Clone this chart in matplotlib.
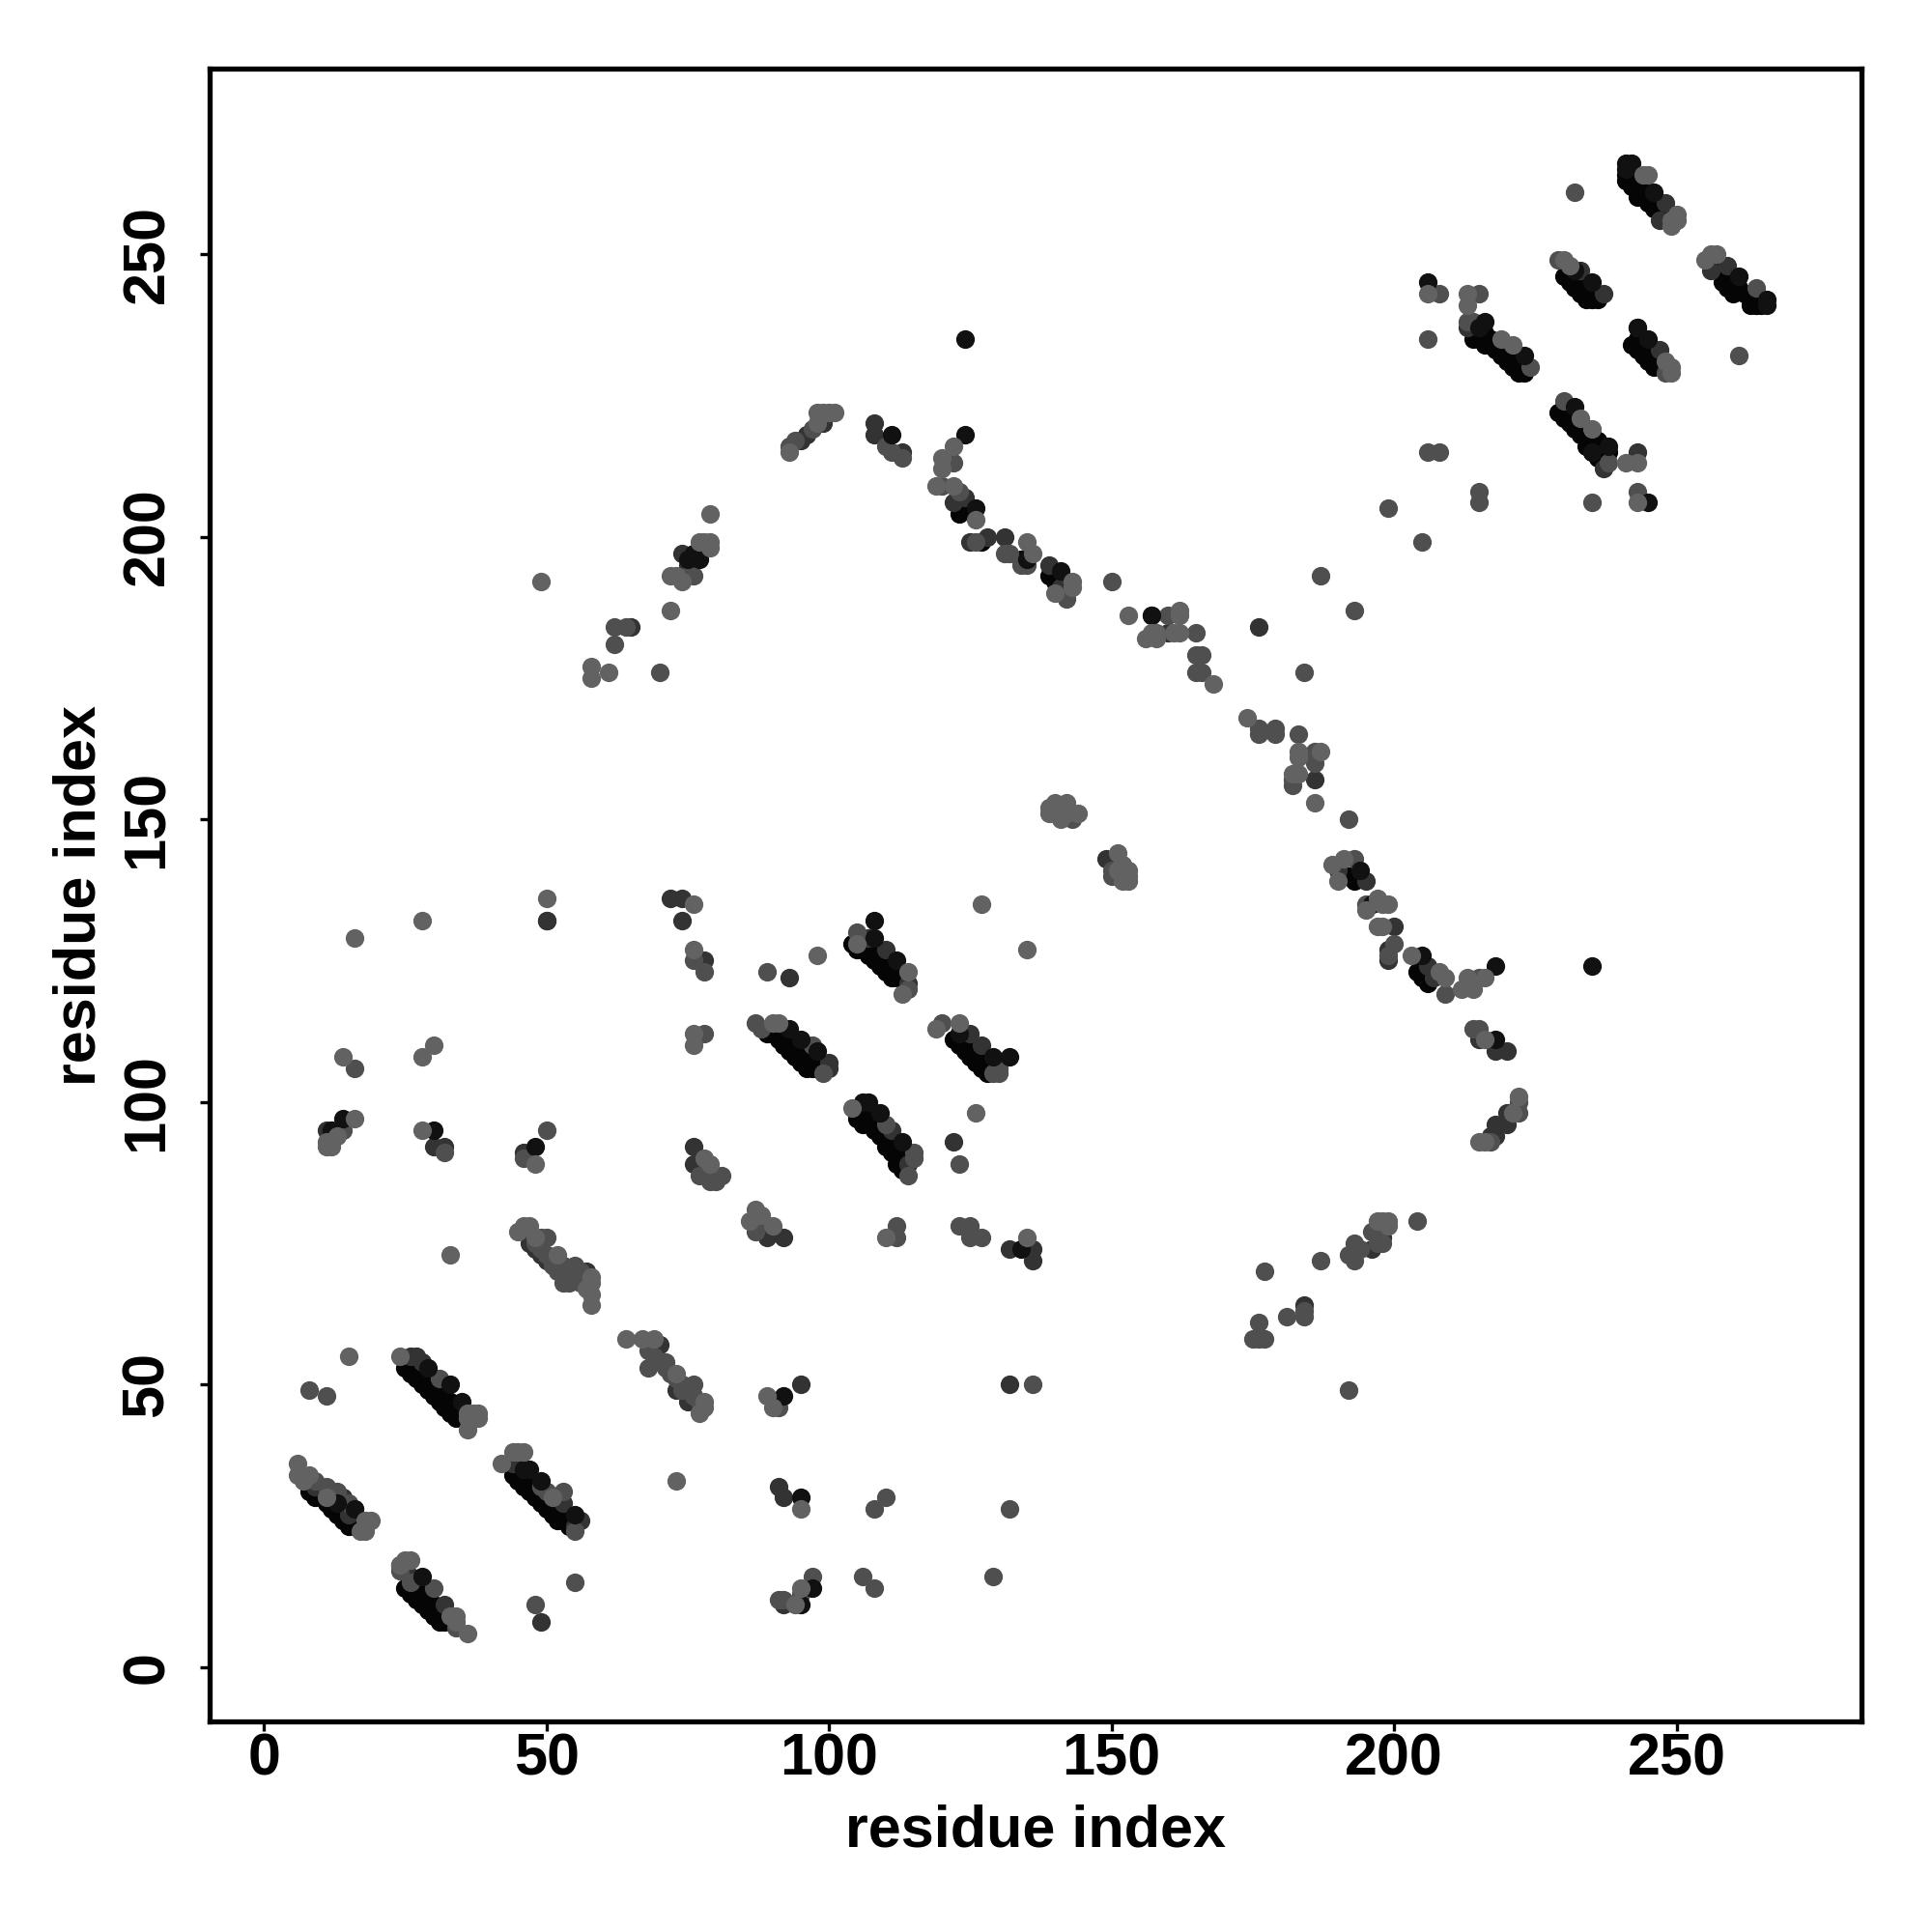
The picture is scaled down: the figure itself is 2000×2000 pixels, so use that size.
import matplotlib
matplotlib.use("Agg")
import matplotlib.pyplot as plt

plt.rcParams['font.family'] = ['Liberation Sans', 'DejaVu Sans']
plt.rcParams['font.weight'] = 'bold'

ticks = [0, 50, 100, 150, 200, 250]
axis_label = "residue index"

black_pts = [
 (8,31),(9,30),(10,30),(11,29),(12,28),(13,27),(14,26),(15,25),(16,25),
 (25,53),(26,52),(27,51),(28,50),(29,49),(30,48),(31,47),(32,46),(33,45),(34,44),
 (44,34),(45,33),(46,32),(47,31),(48,30),(49,29),(50,28),(51,27),(52,26),(53,26),(54,25),
 (25,14),(26,13),(27,12),(28,11),(29,10),(30,9),(31,8),(32,8),
 (104,128),(105,127),(106,127),(107,126),(108,125),(109,124),(110,123),(111,122),(112,122),
 (89,112),(90,112),(91,111),(92,110),(93,109),(94,108),(95,107),(96,106),(97,106),
 (122,111),(123,110),(124,109),(125,108),(126,107),(127,106),(128,105),
 (105,97),(106,96),(107,96),(108,95),(109,94),(110,92),(111,91),(112,89),(113,88),
 (241,263),(241,264),(242,262),(243,260),(244,260),(245,259),(246,258),
 (258,245),(259,244),(260,243),(263,241),(264,241),(265,241),
 (230,246),(231,245),(232,244),(233,243),(234,242),(235,242),
 (214,235),(215,235),(216,234),(217,234),(218,233),(219,232),(220,231),(221,230),(222,229),(223,229),
 (242,234),(243,233),(244,232),(245,231),(246,230),
 (229,222),(230,221),(231,220),(232,219),(233,218),(234,216),(235,215),(236,214),
 (123,204),(124,205),(127,199),(134,196),(139,193),(140,192),
 (192,140),(193,139),(196,135),(204,123),(205,122),(206,121),
 (10,32),(11,31),(12,30),(13,29),(14,28),(15,27),(16,26),
 (26,54),(27,53),(28,52),(29,51),(30,50),(31,49),(32,48),(33,47),(34,46),(35,45),
 (46,34),(47,33),(48,32),(49,31),(50,30),(51,29),(52,28),(53,27),(54,26),
 (26,15),(27,14),(28,13),(29,12),(30,11),(31,10),(32,9),(33,8),
 (106,129),(107,128),(108,127),(109,126),(110,125),(111,124),(112,123),(113,122),
 (90,113),(91,113),(92,112),(93,111),(94,110),(95,109),(96,108),(97,107),(98,106),
 (123,112),(124,111),(125,110),(126,109),(127,108),(128,107),(129,106),
 (106,99),(107,98),(108,97),(109,96),(110,95),(111,94),(112,93),(113,92),(114,91),
 (242,264),(243,263),(244,262),(245,261),(246,260),(247,259),(248,258),
 (256,249),(257,248),(258,247),(259,246),(260,245),(261,244),(262,243),(263,242),(264,241),
 (231,247),(232,246),(233,245),(234,244),(235,243),(236,242),
 (215,237),(216,236),(217,235),(218,234),(219,233),(220,232),(221,231),(222,230),
 (243,235),(244,234),(245,233),(246,232),(247,231),(248,230),
 (230,223),(231,222),(232,221),(233,220),(234,219),(235,218),(236,217),(237,216),(238,215),
]
dark_pts = [
 (9,32),(12,31),(14,30),(16,28),(15,27),(11,95),(12,93),(30,92),(32,92),(46,91),
 (26,55),(27,55),(28,54),(44,36),(53,29),(55,25),(56,26),(24,18),(32,11),(26,16),
 (49,8),(47,75),(48,74),(49,73),(50,72),(54,69),(57,70),(70,57),(73,49),(75,47),
 (95,50),(91,32),(92,30),(92,11),(72,136),(74,136),(74,132),(93,122),(78,125),
 (76,92),(76,89),(89,76),(92,76),(122,93),(132,74),(136,74),(136,72),(132,50),
 (50,132),(107,129),(110,127),(114,121),(125,112),(127,110),(100,107),(100,106),
 (111,95),(114,89),(220,109),(218,109),(220,98),(220,96),(218,96),(218,94),(217,94),
 (247,256),(248,259),(256,247),(259,248),(237,243),(233,247),(213,237),(243,237),(247,233),
 (237,212),(243,215),(186,157),(157,186),(160,183),(131,200),(125,199),(128,200),(139,195),
 (141,191),(142,190),(124,207),(122,206),(190,141),(195,139),(199,127),(199,125),(200,131),
 (206,124),(207,122),(215,111),(149,143),(184,64),(176,184),(196,74),(198,76),(50,132),
 (65,184),(74,197),(75,195),(95,217),(96,218),(99,220),(108,220),(108,218),(113,215),
]
mid_pts = [
 (8,49),(11,48),(16,106),(14,95),(32,91),(46,90),(50,95),(9,33),(11,32),(13,31),(15,29),
 (31,51),(49,32),(24,17),(26,15),(30,14),(34,7),(55,15),(48,11),(53,31),(50,31),(55,24),
 (49,76),(50,76),(53,71),(52,70),(53,68),(54,68),(56,70),(51,71),(55,71),
 (48,75),(49,74),(50,73),(51,72),(52,71),(53,70),(54,70),(55,69),(56,68),(57,68),
 (68,56),(69,55),(70,54),(71,53),(72,52),(73,51),(74,49),(75,49),(76,48),(77,47),
 (68,53),(71,54),(76,50),(74,50),(69,54),(91,46),(95,13),(97,16),(92,12),(91,12),
 (108,28),(110,30),(106,16),(108,14),(132,28),(129,16),(136,50),(192,49),(76,125),(78,123),
 (89,123),(87,114),(88,113),(105,130),(114,120),(97,110),(99,105),(120,114),(130,106),(130,105),(129,105),
 (110,96),(115,91),(115,90),(114,87),(123,89),(79,88),(81,87),(77,87),(79,86),(80,86),
 (78,112),(87,77),(88,79),(112,76),(112,78),(123,78),(125,78),(125,76),(127,76),
 (232,261),(261,232),(229,249),(264,244),(208,243),(215,243),(206,235),(214,238),(213,238),
 (224,230),(248,229),(230,224),(238,213),(243,208),(235,206),(206,215),(208,215),(215,208),
 (215,206),(199,205),(205,199),(122,213),(120,209),(123,208),(126,199),(132,197),(131,197),
 (134,195),(135,195),(142,189),(150,192),(160,186),(165,183),(165,179),(166,179),(165,176),(166,176),
 (176,166),(176,165),(179,166),(179,165),(183,165),(182,157),(182,156),(186,162),(186,160),(192,150),
 (193,143),(195,135),(200,128),(199,126),(209,119),(215,122),(214,113),(215,113),(222,98),(222,100),(217,93),
 (184,176),(187,193),(193,187),(62,181),(62,184),(64,184),(70,176),(76,193),(75,193),
 (93,216),(94,217),(97,219),(111,215),(110,216),(113,214),
 (140,151),(143,150),(150,141),(150,140),(177,70),(176,61),(175,58),(176,58),(177,58),(181,62),
 (184,62),(184,63),(187,72),(192,73),(193,75),(193,72),(194,74),(196,77),(197,75),(198,75),(197,77),(204,79),
]
top_pts = [
 (12,95),(14,97),(30,95),(48,92),(13,29),(16,28),(29,53),(33,50),(35,47),(28,16),
 (46,35),(47,35),(49,33),(55,27),(92,48),(95,30),(97,14),(95,11),(134,74),
 (108,132),(108,129),(112,125),(93,113),(95,111),(98,109),(123,112),(129,108),(132,108),
 (106,100),(107,100),(109,98),(113,93),
 (241,266),(242,266),(241,265),(246,261),(261,246),(266,242),(266,241),
 (235,245),(232,247),(206,245),(216,238),(215,237),(223,232),(245,235),(243,237),
 (232,223),(238,216),(235,215),(245,206),(124,235),(124,218),(111,218),(126,205),
 (135,196),(141,194),(157,186),(194,141),(196,135),(205,126),(218,124),(235,124),(218,111),
 (75,196),(77,196),(76,197),
]
light_pts = [
 (6,36),(6,34),(7,33),(8,34),(11,30),(18,26),(19,26),(18,25),(17,24),(18,24),
 (15,55),(33,73),(14,108),(16,129),(28,132),(28,108),(30,110),(16,97),(11,92),(12,92),(11,93),(13,94),
 (28,95),(48,89),(49,192),(50,136),(24,55),(36,45),(38,45),(37,44),(38,44),(36,42),(37,45),(36,44),
 (44,38),(45,38),(46,38),(42,36),(51,30),(24,18),(25,19),(26,19),(33,9),(34,9),(36,6),(34,8),
 (45,77),(46,78),(47,78),(48,76),(52,73),(58,69),(58,68),(57,67),(58,66),(58,64),
 (64,58),(67,58),(69,58),(73,52),(78,47),(78,46),(77,45),(89,48),(90,46),(95,28),(94,11),(95,14),(73,33),
 (76,135),(76,127),(76,112),(76,110),(98,126),(127,135),(135,127),(105,128),(114,123),(113,119),
 (90,114),(91,114),(119,113),(123,114),(104,99),(126,98),(78,90),(79,89),
 (87,81),(86,79),(88,80),(90,78),(110,76),(135,76),
 (244,264),(245,264),(250,257),(249,255),(250,256),(249,256),(257,250),(255,249),(256,250),(231,248),(230,249),
 (206,243),(213,243),(213,241),(219,235),(221,234),(248,231),(249,230),(249,229),(233,221),(235,219),
 (241,213),(243,213),(243,206),(122,216),(120,214),(120,212),(119,209),(122,209),(126,203),
 (135,199),(136,197),(143,192),(143,191),(140,190),(153,186),(162,187),(162,186),(156,182),(157,183),
 (158,183),(158,182),(161,183),(162,183),(168,174),(174,168),(183,162),(183,161),(182,158),(183,158),
 (187,162),(186,153),(189,142),(191,143),(190,139),(195,134),(197,136),(198,135),(199,135),(197,131),(198,131),
 (203,126),(208,123),(209,122),(212,120),(213,122),(214,120),(216,122),(216,111),(222,101),(221,98),(215,93),(216,93),
 (58,177),(58,175),(61,176),(72,187),(72,193),(73,193),(74,192),(78,199),(79,198),(79,199),(77,199),(79,204),
 (93,215),(98,220),(98,222),(99,222),(100,222),(101,222),
 (139,152),(140,153),(141,152),(142,153),(141,150),(142,151),(144,151),(139,151),
 (151,144),(152,142),(153,141),(153,140),(153,139),(152,139),(151,141),
 (197,79),(198,79),(199,79),(199,78),
]

layers = [(black_pts, "#050505"), (dark_pts, "#333333"), (mid_pts, "#4f4f4f"),
          (top_pts, "#111111"), (light_pts, "#626262")]

fig = plt.figure(figsize=(10, 10), dpi=200)
ax = fig.add_axes([217/2000, 1-1782/2000, 1710/2000, 1711/2000])
for pts, col in layers:
    ax.scatter([p[0] for p in pts], [p[1] for p in pts], s=48, c=col,
               linewidths=0, clip_on=True)

ax.set_xlim(-9.6, 282.7)
ax.set_ylim(-9.6, 282.8)
ax.set_xticks(ticks)
ax.set_yticks(ticks)
ax.tick_params(axis='x', length=3.6, width=1.2, labelsize=22, pad=0.6)
ax.tick_params(axis='y', length=3.6, width=1.2, labelsize=22, pad=9)
for lab in ax.get_yticklabels():
    lab.set_rotation(90)
    lab.set_va('center')
for s in ax.spines.values():
    s.set_linewidth(1.9)
ax.set_xlabel(axis_label, fontsize=22, fontweight='bold', labelpad=6)
ax.set_ylabel(axis_label, fontsize=22, fontweight='bold', labelpad=5)
fig.savefig("out.png", dpi=200, facecolor="white")
